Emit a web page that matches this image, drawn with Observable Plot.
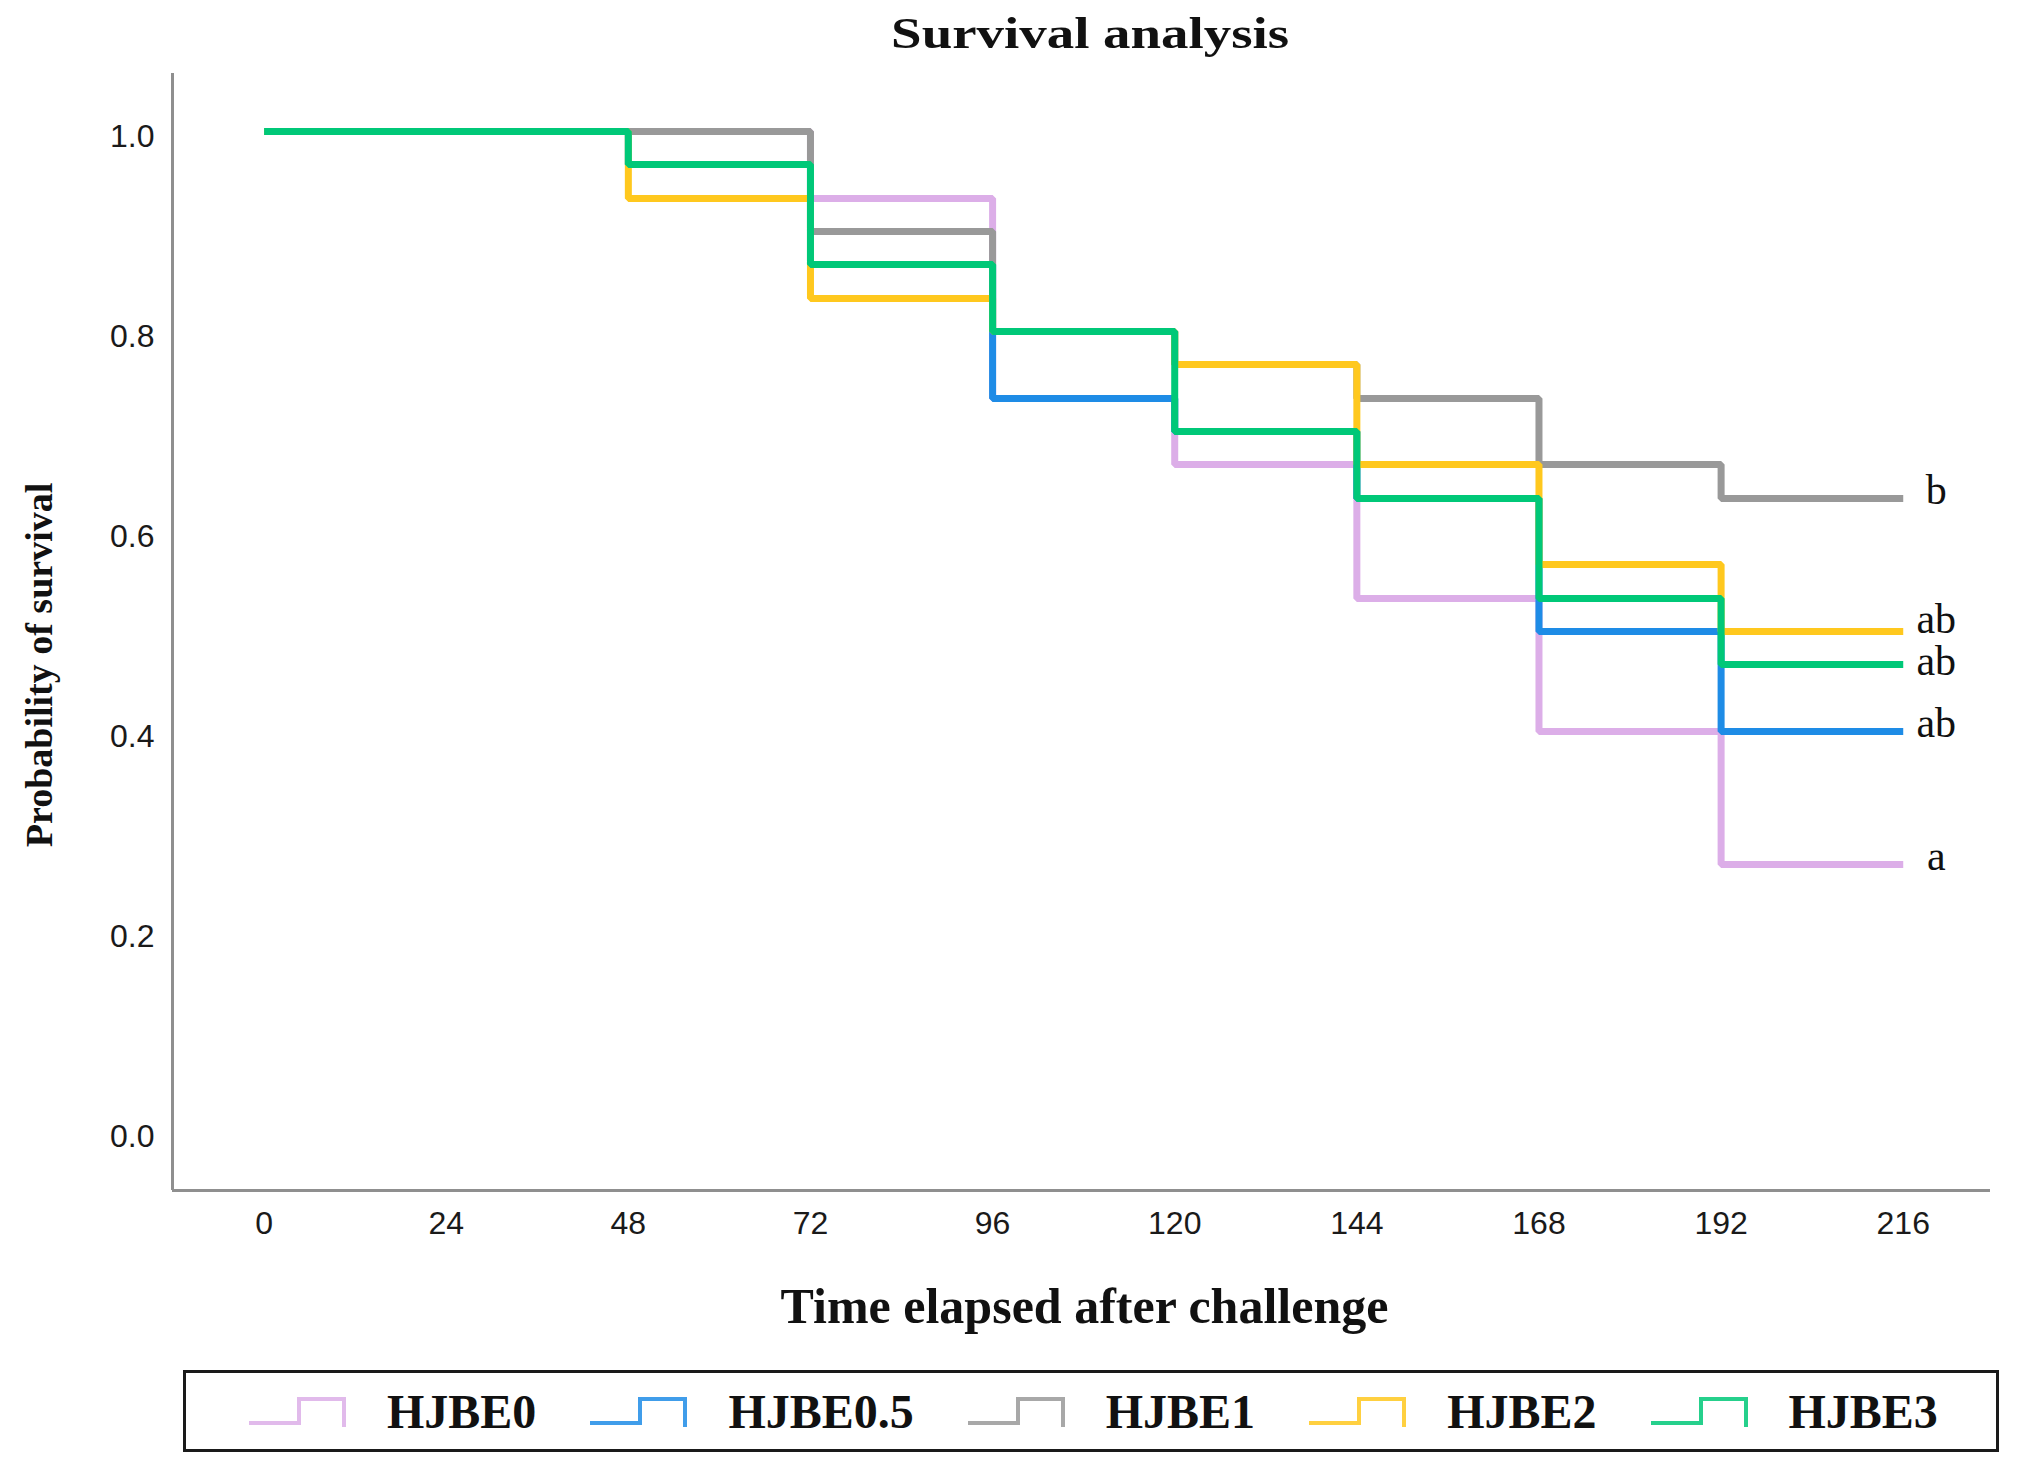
<!DOCTYPE html>
<html>
<head>
<meta charset="utf-8">
<script src="https://cdn.jsdelivr.net/npm/d3@7"></script>
<script src="https://cdn.jsdelivr.net/npm/@observablehq/plot@0.6"></script>
<style>
  html, body { margin: 0; padding: 0; background: #fff; }
  #page { position: relative; width: 2024px; height: 1470px; overflow: hidden; background: #fff; }
  #title { height: 66px; line-height: 66px; text-align: center; font-family: "Liberation Serif", "Times New Roman", serif; font-weight: bold; font-size: 45px; color: #111; white-space: nowrap; }
  #title span { display: inline-block; transform: translateX(78px) scaleX(1.22); }
  #legend { position: absolute; left: 183px; top: 1370px; width: 1816px; height: 82px; border: 3px solid #1a1a1a; box-sizing: border-box; display: flex; align-items: center; padding-left: 63px; background: #fff; }
  .item { display: flex; align-items: center; margin-right: 54px; }
  .item span { margin-left: 41px; font-family: "Liberation Serif", "Times New Roman", serif; font-weight: bold; font-size: 48px; color: #111; white-space: nowrap; }
  .item svg { display: block; }
</style>
</head>
<body>
<div id="page">
  <div id="title"><span></span></div>
  <div id="chart"></div>
  <div id="legend"></div>
</div>
<script>
// ---- data ----
const titleText = "Survival analysis";
const xLabel = "Time elapsed after challenge";
const yLabel = "Probability of survival";
const times = [0, 48, 72, 96, 120, 144, 168, 192, 216];
const groups = ["HJBE0", "HJBE0.5", "HJBE1", "HJBE2", "HJBE3"];
const colors = ["#dcaee8", "#1e8ce6", "#999999", "#ffc81e", "#00c878"];
const survHJBE0  = [1, 1,     0.933, 0.733, 0.667, 0.533, 0.4,   0.267, 0.267];
const survHJBE05 = [1, 0.967, 0.867, 0.733, 0.7,   0.633, 0.5,   0.4,   0.4];
const survHJBE1  = [1, 1,     0.9,   0.8,   0.767, 0.733, 0.667, 0.633, 0.633];
const survHJBE2  = [1, 0.933, 0.833, 0.8,   0.767, 0.667, 0.567, 0.5,   0.5];
const survHJBE3  = [1, 0.967, 0.867, 0.8,   0.7,   0.633, 0.533, 0.467, 0.467];
const letters = ["a", "ab", "b", "ab", "ab"];
const xTicks = [0, 24, 48, 72, 96, 120, 144, 168, 192, 216];
const yTicks = [0, 0.2, 0.4, 0.6, 0.8, 1.0];
const xDomain = [-12.07, 227.5];
const yDomain = [-0.059, 1.058];

const seriesValues = [survHJBE0, survHJBE05, survHJBE1, survHJBE2, survHJBE3];
const rows = [];
groups.forEach((g, gi) => {
  times.forEach((t, ti) => rows.push({group: g, time: t, survival: seriesValues[gi][ti]}));
});
const endLabels = groups.map((g, gi) => ({
  group: g,
  time: times[times.length - 1],
  survival: seriesValues[gi][seriesValues[gi].length - 1],
  letter: letters[gi]
}));

document.querySelector("#title span").textContent = titleText;

const serif = '"Liberation Serif", "Times New Roman", serif';
const letterStyle = {x: "time", y: "survival", text: "letter", dx: 33, fontSize: 42, fontFamily: serif, fill: "#111", textAnchor: "middle", lineAnchor: "middle"};

const chart = Plot.plot({
  width: 2024,
  height: 1290,
  marginLeft: 172,
  marginRight: 34,
  marginTop: 7,
  marginBottom: 166,
  style: {fontFamily: '"Liberation Sans", Arial, sans-serif', fontSize: "32px", color: "#1a1a1a", background: "#fff", overflow: "visible", display: "block"},
  x: {domain: xDomain},
  y: {domain: yDomain},
  color: {domain: groups, range: colors},
  marks: [
    Plot.axisY(yTicks, {tickSize: 0, tickPadding: 18, tickFormat: d3.format(".1f"), dy: 5, label: null, fontSize: 32}),
    Plot.axisX(xTicks, {tickSize: 0, tickPadding: 21, tickFormat: d => String(d), label: null, fontSize: 32}),
    Plot.ruleX([xDomain[0]], {stroke: "#8f8f8f", strokeWidth: 3}),
    Plot.ruleY([yDomain[0]], {stroke: "#8f8f8f", strokeWidth: 3}),
    Plot.line(rows, {x: "time", y: "survival", z: "group", stroke: "group", curve: "step-after", strokeWidth: 7, strokeLinejoin: "miter", strokeLinecap: "butt"}),
    Plot.text(endLabels.filter(d => d.group !== "HJBE2" && d.group !== "HJBE3"), {...letterStyle, dy: -8}),
    Plot.text(endLabels.filter(d => d.group === "HJBE2"), {...letterStyle, dy: -12}),
    Plot.text(endLabels.filter(d => d.group === "HJBE3"), {...letterStyle, dy: -3}),
    Plot.text([yLabel], {frameAnchor: "left", rotate: -90, textAnchor: "middle", lineAnchor: "middle", dx: -133, dy: 33, fontSize: 38, fontWeight: "bold", fontFamily: serif, fill: "#111"}),
    Plot.text([xLabel], {frameAnchor: "bottom", textAnchor: "middle", lineAnchor: "middle", dx: 3, dy: 116, fontSize: 50, fontWeight: "bold", fontFamily: serif, fill: "#111"})
  ]
});
document.getElementById("chart").appendChild(chart);

// ---- legend ----
const legend = document.getElementById("legend");
groups.forEach((g, gi) => {
  const item = document.createElement("div");
  item.className = "item";
  const ns = "http://www.w3.org/2000/svg";
  const svg = document.createElementNS(ns, "svg");
  svg.setAttribute("width", "97");
  svg.setAttribute("height", "32");
  const path = document.createElementNS(ns, "path");
  path.setAttribute("d", "M0,28 H50 V4 H95 V32");
  path.setAttribute("fill", "none");
  path.setAttribute("stroke", colors[gi]);
  path.setAttribute("stroke-width", "4");
  path.setAttribute("stroke-opacity", "0.85");
  svg.appendChild(path);
  const span = document.createElement("span");
  span.textContent = g;
  item.appendChild(svg);
  item.appendChild(span);
  legend.appendChild(item);
});
</script>
</body>
</html>
